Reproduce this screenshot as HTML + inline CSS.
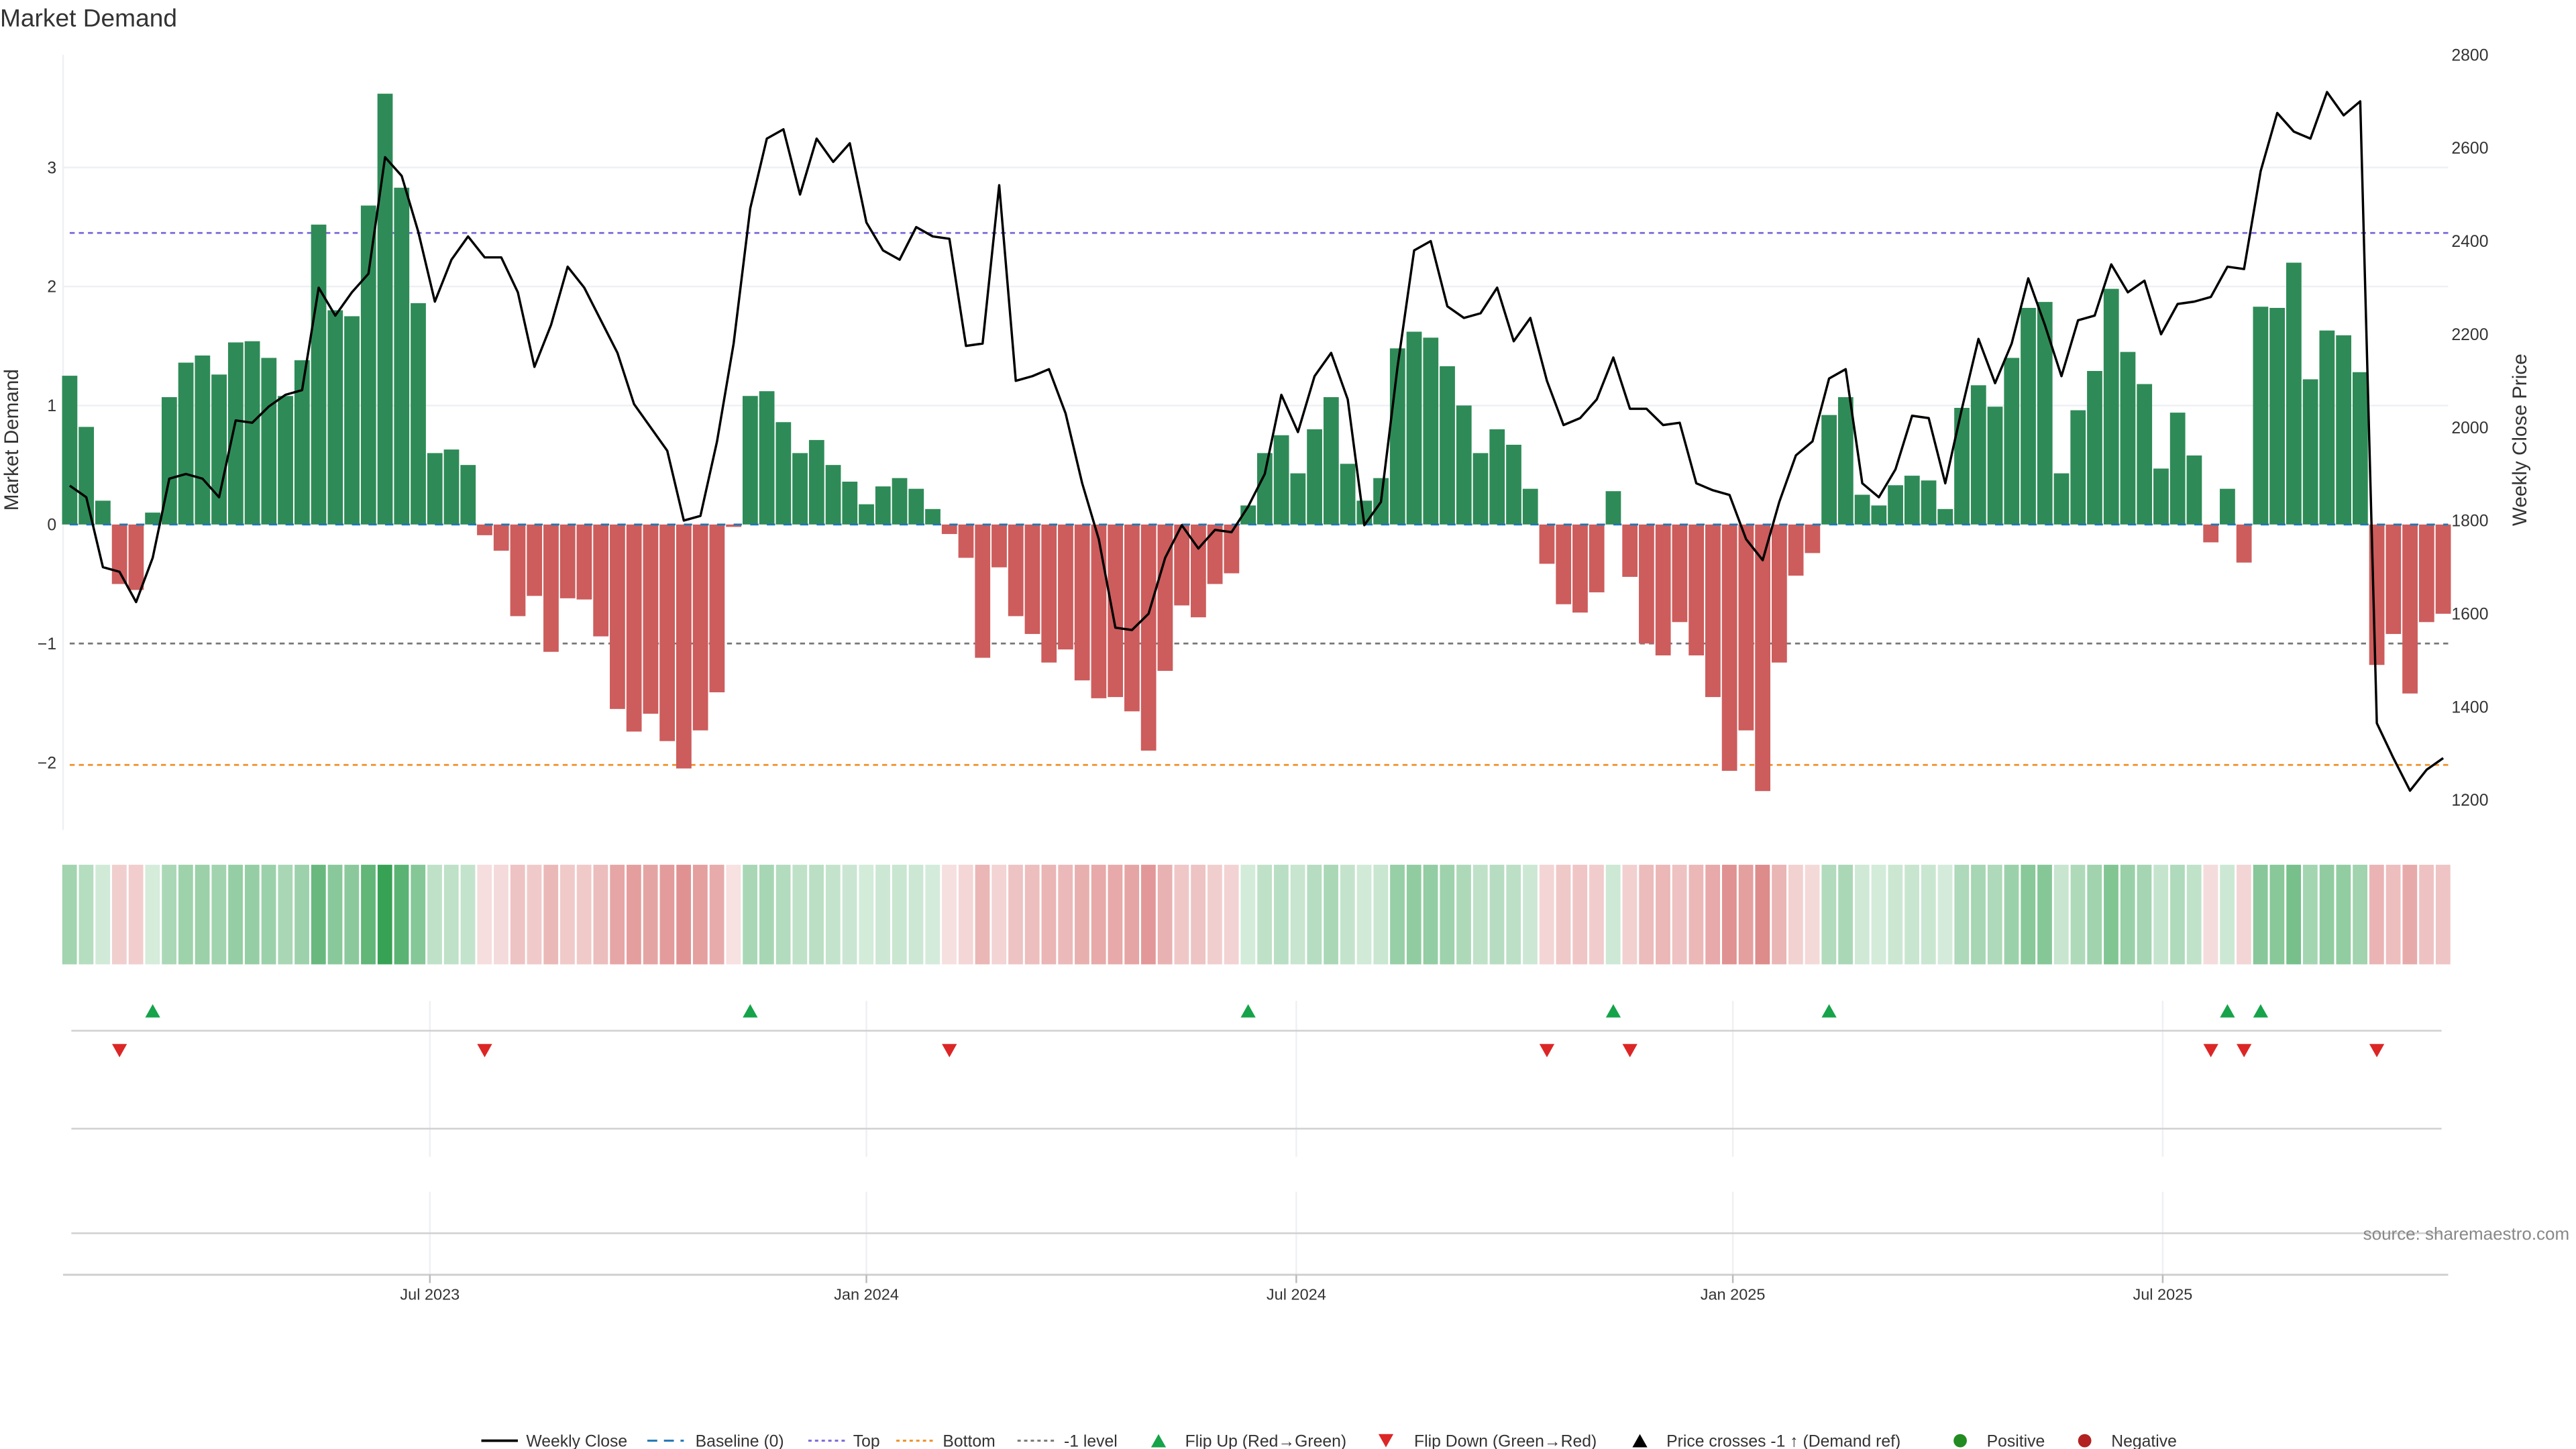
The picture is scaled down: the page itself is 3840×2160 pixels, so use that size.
<!DOCTYPE html>
<html><head><meta charset="utf-8"><style>
html,body{margin:0;padding:0;background:#fff;}
svg{display:block;font-family:"Liberation Sans","DejaVu Sans",sans-serif;}
</style></head><body>
<svg id="chart" width="3840" height="2160" viewBox="0 0 1552 873" xmlns="http://www.w3.org/2000/svg">
<rect width="1552" height="873" fill="#fff"/>
<text x="0" y="16" font-size="15" fill="#333">Market Demand</text>
<g id="g-grid"></g><g id="g-bars"></g><g id="g-line"></g><g id="g-heat"></g><g id="g-flags"></g><g id="g-axes"></g>
<text transform="translate(11,265) rotate(-90)" text-anchor="middle" font-size="12" fill="#333">Market Demand</text>
<text transform="translate(1522,265) rotate(-90)" text-anchor="middle" font-size="12" fill="#333">Weekly Close Price</text>
<text x="1548" y="747" text-anchor="end" font-size="10.5" fill="#888">source: sharemaestro.com</text>
<g id="g-legend"></g>
</svg>
<script>
const demand = [1.25,0.82,0.2,-0.5,-0.55,0.1,1.07,1.36,1.42,1.26,1.53,1.54,1.4,1.08,1.38,2.52,1.8,1.75,2.68,3.62,2.83,1.86,0.6,0.63,0.5,-0.09,-0.22,-0.77,-0.6,-1.07,-0.62,-0.63,-0.94,-1.55,-1.74,-1.59,-1.82,-2.05,-1.73,-1.41,-0.02,1.08,1.12,0.86,0.6,0.71,0.5,0.36,0.17,0.32,0.39,0.3,0.13,-0.08,-0.28,-1.12,-0.36,-0.77,-0.92,-1.16,-1.05,-1.31,-1.46,-1.45,-1.57,-1.9,-1.23,-0.68,-0.78,-0.5,-0.41,0.16,0.6,0.75,0.43,0.8,1.07,0.51,0.2,0.39,1.48,1.62,1.57,1.33,1.0,0.6,0.8,0.67,0.3,-0.33,-0.67,-0.74,-0.57,0.28,-0.44,-1.0,-1.1,-0.82,-1.1,-1.45,-2.07,-1.73,-2.24,-1.16,-0.43,-0.24,0.92,1.07,0.25,0.16,0.33,0.41,0.37,0.13,0.98,1.17,0.99,1.4,1.82,1.87,0.43,0.96,1.29,1.98,1.45,1.18,0.47,0.94,0.58,-0.15,0.3,-0.32,1.83,1.82,2.2,1.22,1.63,1.59,1.28,-1.18,-0.92,-1.42,-0.82,-0.75];
const price = [1875,1850,1700,1690,1625,1720,1890,1900,1890,1850,2015,2010,2045,2070,2080,2300,2240,2290,2330,2580,2540,2420,2270,2360,2410,2365,2365,2290,2130,2220,2345,2300,2230,2160,2050,2000,1950,1800,1810,1970,2180,2470,2620,2640,2500,2620,2570,2610,2440,2380,2360,2430,2410,2405,2175,2180,2520,2100,2110,2125,2030,1880,1760,1570,1565,1600,1720,1790,1740,1780,1775,1830,1900,2070,1990,2110,2160,2060,1790,1840,2130,2380,2400,2260,2235,2245,2300,2185,2235,2100,2005,2020,2060,2150,2040,2040,2005,2010,1880,1865,1855,1760,1715,1840,1940,1970,2105,2125,1880,1850,1910,2025,2020,1880,2040,2190,2095,2180,2320,2220,2110,2230,2240,2350,2290,2315,2200,2265,2270,2280,2345,2340,2550,2675,2635,2620,2720,2670,2700,1365,1290,1220,1265,1290];
const leftTicks = [-2,-1,0,1,2,3];
const rightTicks = [1200,1400,1600,1800,2000,2200,2400,2600,2800];
const levelTop = 2.45, levelBottom = -2.02, levelMinus1 = -1;
const dateTicks = ["Jul 2023","Jan 2024","Jul 2024","Jan 2025","Jul 2025"];
const dateTickWeek = [21.7,48,73.9,100.2,126.1];

const NS="http://www.w3.org/2000/svg";
function mk(tag,attrs,parent,txt){const e=document.createElementNS(NS,tag);for(const k in attrs)e.setAttribute(k,attrs[k]);if(txt!==undefined)e.textContent=txt;parent.appendChild(e);return e;}
const xS = i => 42 + i*10;
const yL = v => 316 - v*71.7;
const yR = p => 33 + (2800-p)*449/1600;
const G = id => document.getElementById(id);

// grid & reference lines
const gg=G('g-grid');
let e=mk('line',{x1:38,y1:33,x2:38,y2:500,stroke:'#eef0f3'},gg);


leftTicks.forEach(t=>{if(t>0){const l=mk('line',{x1:38,y1:yL(t),x2:1475,y2:yL(t),stroke:'#eef0f3'},gg);

}});
[[levelTop,'#7b68d9','top-level-line'],[levelMinus1,'#777','minus1-level-line'],[levelBottom,'#f0902a','bottom-level-line']].forEach(([v,c,n])=>{
 const l=mk('line',{x1:42,y1:yL(v),x2:1475,y2:yL(v),stroke:c,'stroke-width':1.1,'stroke-dasharray':'3 2.5'},gg);
 
 
});
// bars
const gb=G('g-bars');
demand.forEach((v,i)=>{
 const y0=yL(0),y1=yL(v);
 const r=mk('rect',{x:xS(i)-4.6,y:Math.min(y0,y1),width:9.2,height:Math.max(0.6,Math.abs(y1-y0)),fill:v>=0?'#2e8b57':'#cd5c5c'},gb);
 
 
});
e=mk('line',{x1:42,y1:yL(0),x2:1475,y2:yL(0),stroke:'#1f77b4','stroke-width':1.1,'stroke-dasharray':'5 5'},gb);


// price line
const pl=mk('polyline',{points:price.map((p,i)=>xS(i)+','+yR(p)).join(' '),fill:'none',stroke:'#000','stroke-width':1.4,'stroke-linejoin':'round'},G('g-line'));


// heatmap
const gh=G('g-heat');
demand.forEach((v,i)=>{
 const pos=v>=0;
 const a=pos?Math.min(1,0.18+0.22*v):Math.min(1,0.15+0.2*Math.abs(v));
 const c=pos?'rgb(50,160,80)':'rgb(200,60,60)';
 const r=mk('rect',{x:xS(i)-4.5,y:521,width:8.8,height:60,fill:c,'fill-opacity':a.toFixed(3)},gh);
 
 
});
// flag panels
const gf=G('g-flags');
dateTickWeek.forEach(w=>{const x=xS(w);
 const l1=mk('line',{x1:x,y1:603,x2:x,y2:697,stroke:'#eef0f3'},gf);
 
 
 const l2=mk('line',{x1:x,y1:718,x2:x,y2:768,stroke:'#eef0f3'},gf);
 
 
});
[621,680,743].forEach(y=>{const l=mk('line',{x1:43,y1:y,x2:1471,y2:y,stroke:'#d0d0d0','stroke-width':1},gf);
 
 });
for(let i=1;i<demand.length;i++){
 const x=xS(i);
 if(demand[i-1]<0&&demand[i]>=0){const t=mk('path',{d:`M${x-4.5},${613}L${x+4.5},${613}L${x},${605}Z`,fill:'#16a34a'},gf);
  
  }
 if(demand[i-1]>=0&&demand[i]<0){const t=mk('path',{d:`M${x-4.5},${629}L${x+4.5},${629}L${x},${637}Z`,fill:'#dc2626'},gf);
  
  }
}
// axes
const ga=G('g-axes');
e=mk('line',{x1:38,y1:768,x2:1475,y2:768,stroke:'#d0d0d0','stroke-width':1.2},ga);


dateTicks.forEach((lab,k)=>{const x=xS(dateTickWeek[k]);
 const tk=mk('line',{x1:x,y1:768,x2:x,y2:773,stroke:'#bbb'},ga);
 
 
 const t=mk('text',{x:x,y:783,'text-anchor':'middle','font-size':9.5,fill:'#333'},ga,lab);
 
 
});
leftTicks.forEach(v=>{const t=mk('text',{x:34,y:yL(v)+3.5,'text-anchor':'end','font-size':10,fill:'#333'},ga,v<0?'\u2212'+Math.abs(v):String(v));
 
 });
rightTicks.forEach(v=>{const t=mk('text',{x:1477,y:yR(v)+3.5,'font-size':10,fill:'#333'},ga,String(v));
 
 });
// legend
const gl=G('g-legend');const LY=868;
function legText(x,s){const t=mk('text',{x:x,y:LY+3.5,'font-size':10,fill:'#333'},gl,s);
 
 }
function legLine(x,c,dash,w,name){const l=mk('line',{x1:x,y1:LY,x2:x+22,y2:LY,stroke:c,'stroke-width':w,'stroke-dasharray':dash},gl);
 
 }
legLine(290,'#000','none',1.5,'legend-weekly-close');legText(317,'Weekly Close');
legLine(390,'#1f77b4','6 4',1.2,'legend-baseline');legText(419,'Baseline (0)');
legLine(487,'#7b68d9','2 2',1.2,'legend-top');legText(514,'Top');
legLine(540,'#f0902a','2 2',1.2,'legend-bottom');legText(568,'Bottom');
legLine(613,'#777','2 2',1.2,'legend-minus1');legText(641,'-1 level');
[[698,'#16a34a',true,'legend-flip-up','Flip Up (Red\u2192Green)',714],[835,'#dc2626',false,'legend-flip-down','Flip Down (Green\u2192Red)',852],[988,'#000',true,'legend-price-cross','Price crosses -1 \u2191 (Demand ref)',1004]].forEach(([x,c,up,n,s,tx])=>{
 const p=mk('path',{d:up?`M${x-4.5},${LY+4}L${x+4.5},${LY+4}L${x},${LY-4}Z`:`M${x-4.5},${LY-4}L${x+4.5},${LY-4}L${x},${LY+4}Z`,fill:c},gl);
 
 
 legText(tx,s);
});
[[1181,'#228b22','legend-positive','Positive',1197],[1256,'#b22222','legend-negative','Negative',1272]].forEach(([x,c,n,s,tx])=>{
 const ci=mk('circle',{cx:x,cy:LY,r:4,fill:c},gl);
 
 
 legText(tx,s);
});
</script>
</body></html>
